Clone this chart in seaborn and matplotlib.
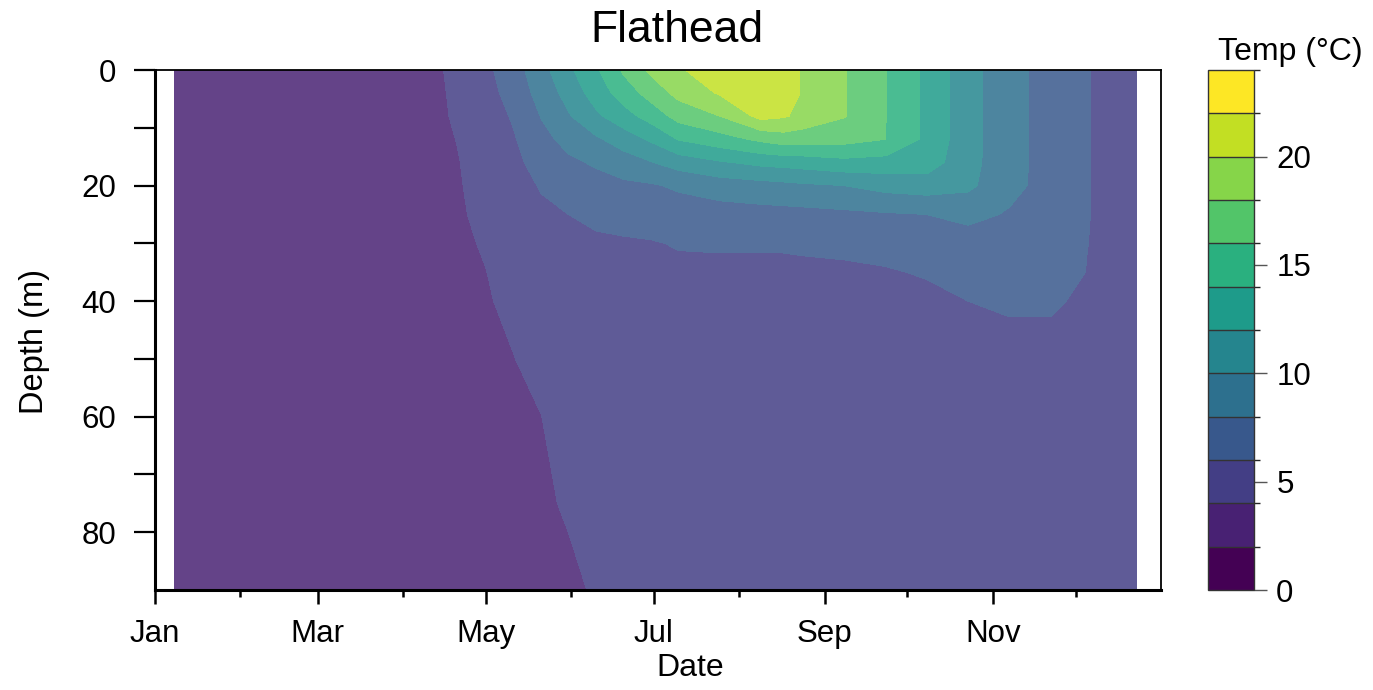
import numpy as np
import pandas as pd
import matplotlib
matplotlib.use("Agg")
import matplotlib.pyplot as plt
from matplotlib.colors import ListedColormap, BoundaryNorm
import matplotlib.cm as cm
import seaborn as sns

# Sampling dates (days since 1 January) and depths (m)
day = [7, 100, 110, 120, 130, 140, 150, 160, 170, 180, 190, 205, 220,
       228, 235, 250, 265, 280, 295, 310, 325, 338, 345, 356]
depth = [0, 4, 8, 12, 16, 20, 25, 30, 35, 40, 50, 60, 75, 90]

# Temperature profiles (°C) at each sampling date, top to bottom
t007 = [3.2, 3.2, 3.25, 3.25, 3.3, 3.3, 3.3, 3.35, 3.35, 3.4, 3.4, 3.4, 3.45, 3.45]
t100 = [3.6, 3.6, 3.6, 3.55, 3.55, 3.55, 3.5, 3.5, 3.5, 3.5, 3.5, 3.5, 3.5, 3.5]
t110 = [4.45, 4.3, 4.2, 4.05, 3.95, 3.9, 3.85, 3.8, 3.75, 3.7, 3.65, 3.6, 3.55, 3.5]
t120 = [5.55, 5.3, 5.0, 4.8, 4.6, 4.45, 4.3, 4.1, 3.98, 3.9, 3.8, 3.75, 3.7, 3.65]
t130 = [7.1, 6.7, 6.2, 5.8, 5.4, 5.1, 4.8, 4.6, 4.4, 4.25, 3.97, 3.88, 3.8, 3.75]
t140 = [9.25, 8.7, 8.05, 7.5, 6.9, 6.15, 5.6, 5.2, 4.9, 4.7, 4.35, 3.98, 3.85, 3.8]
t150 = [11.6, 10.7, 9.8, 8.5, 7.7, 7.0, 6.0, 5.6, 5.3, 5.1, 4.8, 4.5, 4.1, 3.8]
t160 = [13.7, 12.9, 11.6, 9.7, 8.2, 7.4, 6.4, 5.7, 5.4, 5.2, 4.9, 4.6, 4.3, 4.1]
t170 = [16.3, 14.9, 13.2, 10.9, 9.1, 7.6, 6.6, 5.8, 5.5, 5.3, 5.0, 4.7, 4.4, 4.2]
t180 = [18.4, 16.8, 14.8, 12.3, 9.9, 7.8, 6.7, 5.9, 5.6, 5.4, 5.1, 4.8, 4.5, 4.3]
t190 = [19.8, 18.6, 16.7, 14.1, 10.9, 8.3, 7.0, 6.1, 5.7, 5.5, 5.2, 4.9, 4.6, 4.4]
t205 = [21.0, 20.2, 18.0, 15.2, 11.8, 9.0, 7.1, 6.1, 5.8, 5.6, 5.3, 5.0, 4.7, 4.5]
t220 = [21.4, 21.0, 20.6, 16.4, 12.5, 9.3, 7.3, 6.1, 5.8, 5.6, 5.3, 5.0, 4.7, 4.5]
t228 = [20.6, 20.6, 20.2, 17.0, 12.7, 9.5, 7.35, 6.1, 5.8, 5.6, 5.3, 5.0, 4.7, 4.5]
t235 = [19.9, 19.9, 19.5, 16.8, 12.9, 9.7, 7.4, 6.15, 5.8, 5.6, 5.3, 5.0, 4.7, 4.5]
t250 = [18.15, 18.15, 18.1, 16.7, 13.4, 10.0, 7.6, 6.2, 5.85, 5.6, 5.3, 5.0, 4.7, 4.5]
t265 = [16.05, 16.05, 16.05, 16.0, 13.2, 10.7, 7.8, 6.4, 5.9, 5.6, 5.3, 5.0, 4.7, 4.5]
t280 = [13.6, 13.6, 13.6, 13.55, 13.0, 11.0, 8.0, 6.6, 6.1, 5.7, 5.3, 5.0, 4.7, 4.5]
t295 = [10.7, 10.7, 10.7, 10.7, 10.65, 10.4, 8.6, 7.0, 6.4, 6.0, 5.4, 5.1, 4.8, 4.5]
t310 = [8.7, 8.7, 8.7, 8.7, 8.7, 8.6, 7.8, 7.1, 6.6, 6.15, 5.6, 5.2, 4.8, 4.5]
t325 = [7.2, 7.2, 7.2, 7.2, 7.2, 7.2, 7.1, 6.9, 6.6, 6.15, 5.6, 5.2, 4.8, 4.5]
t338 = [6.05, 6.05, 6.05, 6.05, 6.05, 6.05, 6.05, 6.02, 5.98, 5.8, 5.5, 5.2, 4.8, 4.5]
t345 = [5.8, 5.8, 5.8, 5.8, 5.8, 5.8, 5.8, 5.8, 5.75, 5.65, 5.45, 5.2, 4.8, 4.5]
t356 = [5.3, 5.3, 5.3, 5.3, 5.3, 5.3, 5.3, 5.3, 5.3, 5.3, 5.2, 5.0, 4.7, 4.5]

profiles = [t007, t100, t110, t120, t130, t140, t150, t160, t170, t180, t190,
            t205, t220, t228, t235, t250, t265, t280, t295, t310, t325, t338,
            t345, t356]

# Axis labelling
month_major_pos = [0, 59, 120, 181, 243, 304]
month_major_lab = ["Jan", "Mar", "May", "Jul", "Sep", "Nov"]
month_minor_pos = [31, 90, 151, 212, 273, 334]
depth_major = [0, 20, 40, 60, 80]
depth_minor = [10, 30, 50, 70]
cbar_ticks = [0, 5, 10, 15, 20]
levels = np.arange(0, 25, 2)

sns.set_theme(style="ticks")
plt.rcParams["font.family"] = ["Liberation Sans", "DejaVu Sans"]

temp = pd.DataFrame(np.column_stack(profiles), index=depth, columns=day)

W, H = 1373, 690
fig = plt.figure(figsize=(W / 100, H / 100), dpi=100)
ax = fig.add_axes([155 / W, 1 - 590 / H, (1161 - 155) / W, (590 - 70) / H])
cax = fig.add_axes([1208 / W, 1 - 590 / H, 46 / W, (590 - 70) / H])

base = plt.get_cmap("viridis")(np.linspace(0, 1, len(levels) - 1))
faded = base.copy()
faded[:, :3] = base[:, :3] * 0.85 + 0.15

ax.contourf(temp.columns.values, temp.index.values, temp.values,
            levels=levels, colors=faded)

ax.set_xlim(0, 365)
ax.set_ylim(90, 0)
ax.set_facecolor("white")

ax.set_xticks(month_major_pos)
ax.set_xticklabels(month_major_lab)
ax.set_xticks(month_minor_pos, minor=True)
ax.set_yticks(depth_major)
ax.set_yticks(depth_minor, minor=True)

ax.tick_params(axis="x", which="major", length=10, width=1.8, color="black",
               labelsize=22.5, pad=11, labelcolor="black")
ax.tick_params(axis="x", which="minor", length=5, width=1.8, color="black")
ax.tick_params(axis="y", which="both", length=15, width=1.6, color="black",
               labelsize=22.5, pad=13, labelcolor="black")

for side in ["left", "bottom"]:
    ax.spines[side].set_linewidth(2.2)
    ax.spines[side].set_color("black")
for side in ["top", "right"]:
    ax.spines[side].set_visible(True)
    ax.spines[side].set_linewidth(1.3)
    ax.spines[side].set_color("black")

ax.set_xlabel("Date", fontsize=23, color="black", va="center")
ax.set_ylabel("Depth (m)", fontsize=23.5, color="black", va="center")
ax.xaxis.set_label_coords((690 - 155) / 1006, (590 - 668) / 520)
ax.yaxis.set_label_coords((35 - 155) / 1006, (590 - 341) / 520)

fig.text(677 / W, 1 - 31 / H, "Flathead", fontsize=32, ha="center",
         va="center", color="black")

sm = cm.ScalarMappable(norm=BoundaryNorm(levels, len(levels) - 1),
                       cmap=ListedColormap(base))
cb = fig.colorbar(sm, cax=cax, ticks=cbar_ticks, drawedges=True)
cb.outline.set_linewidth(1.0)
cb.outline.set_edgecolor("#333333")
cb.dividers.set_color("#333333")
cb.dividers.set_linewidth(1.0)
cax.tick_params(length=9, width=1.0, color="#555555", labelsize=22.5, pad=7,
                labelcolor="black")
fig.text(1290 / W, 1 - 52 / H, "Temp (°C)", fontsize=23, ha="center",
         va="center", color="black")

fig.savefig("out.png", dpi=100)
